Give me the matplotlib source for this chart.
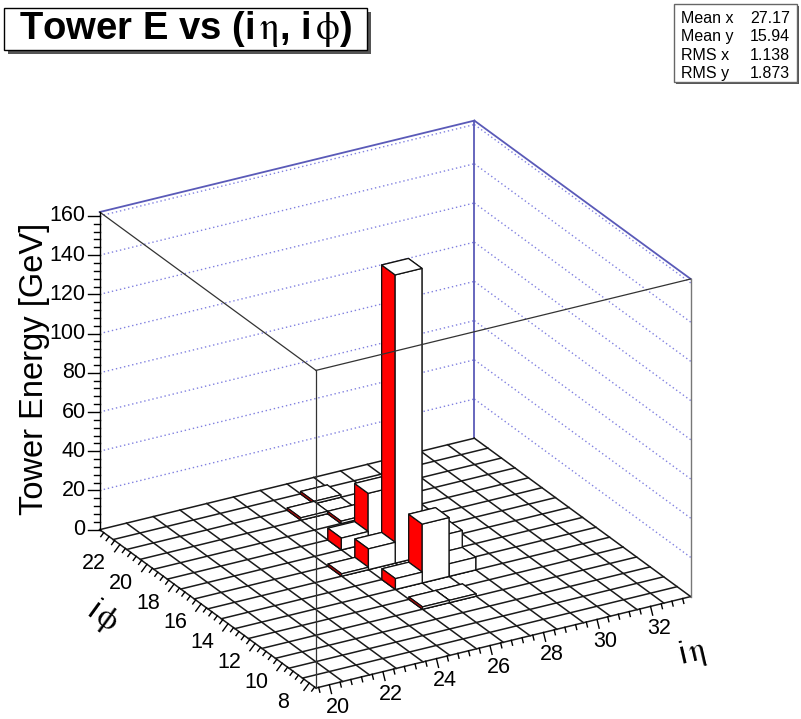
import numpy as np
import matplotlib
matplotlib.use('Agg')
import matplotlib.pyplot as plt
from matplotlib.patches import Rectangle
from mpl_toolkits.mplot3d import proj3d

plt.rcParams['font.family'] = ['Liberation Sans', 'DejaVu Sans']
plt.rcParams['mathtext.fontset'] = 'stix'

# towers with energy (all other towers are empty)
tower_ieta = [27, 27, 27, 26, 26, 26, 28, 28, 27, 27, 26, 27, 25, 26]
tower_iphi = [16, 14, 18, 16, 18, 14, 15, 14, 20, 22, 12, 12, 16, 21]
tower_e = [147.0, 30.0, 25.5, 10.6, 6.0, 5.5, 15.0, 6.4, 1.2, 1.2, 1.2, 1.2, 1.2, 1.2]

ieta_range = (19.5, 33.5)
iphi_range = (7.5, 23.5)
e_top = 162.0

eta_ticks = [20, 22, 24, 26, 28, 30, 32]
phi_ticks = [8, 10, 12, 14, 16, 18, 20, 22]
e_ticks = [0, 20, 40, 60, 80, 100, 120, 140, 160]

stat_names = ['Mean x', 'Mean y', 'RMS x', 'RMS y']
stat_values = ['27.17', '15.94', '1.138', '1.873']

W, H = 801, 719
fig = plt.figure(figsize=(W / 100, H / 100), dpi=100)
ax = fig.add_axes([0.1, 0.1, 0.8, 0.8 * W / H], projection='3d',
                  proj_type='ortho', computed_zorder=False)
ax.set_xlim(*ieta_range)
ax.set_ylim(*iphi_range)
ax.set_zlim(0, e_top)
ax.set_box_aspect((1, 1, 0.81))
ax.view_init(elev=25, azim=-120)
ax.set_axis_off()

# place the axes so the lego box lands where ROOT drew it
fig.canvas.draw()


def to_px(p):
    xs, ys, _ = proj3d.proj_transform(np.array([p[0]]), np.array([p[1]]),
                                      np.array([p[2]]), ax.M)
    return ax.transData.transform([[xs[0], ys[0]]])[0]


bb = ax.bbox
front = to_px((ieta_range[0], iphi_range[0], 0))
left = to_px((ieta_range[0], iphi_range[1], 0))
right = to_px((ieta_range[1], iphi_range[0], 0))
box_w = 591.0
s = box_w / (right[0] - left[0])
u = (front[0] - bb.x0) / bb.width
v = (front[1] - bb.y0) / bb.height
size = bb.width * s
x0 = 316 - u * size
y0 = (H - 688) - v * size
ax.set_position([x0 / W, y0 / H, size / W, size / H])

# screen offsets (pixels) -> data offsets
L = box_w / (np.cos(np.radians(30)) + np.sin(np.radians(30)))
el, az = np.radians(25), np.radians(-120)
right_w = np.array([-np.sin(az), np.cos(az), 0.0])
up_w = np.array([-np.cos(az) * np.sin(el), -np.sin(az) * np.sin(el), np.cos(el)])
span = np.array([ieta_range[1] - ieta_range[0], iphi_range[1] - iphi_range[0], e_top / 0.81])


def shift(px_r, px_u):
    return (px_r * right_w + px_u * up_w) / L * span


def perp(axis_vec, sign):
    d = np.array([right_w @ axis_vec, up_w @ axis_vec])
    d = d / np.hypot(*d)
    return sign * np.array([-d[1], d[0]])


def label(p, off, text, **kw):
    px = to_px(p) + np.asarray(off)
    fig.text(px[0] / W, px[1] / H, text, fontsize=15.5, zorder=5, **kw)


# back walls
blue = '#5a5ab8'
dot_blue = '#8080e0'
for z in e_ticks[1:]:
    ax.plot(ieta_range, [iphi_range[1]] * 2, [z, z], color=dot_blue, lw=1.0,
            ls=(0, (1, 2)), zorder=0)
    ax.plot([ieta_range[1]] * 2, iphi_range, [z, z], color=dot_blue, lw=1.0,
            ls=(0, (1, 2)), zorder=0)
ax.plot(ieta_range, [iphi_range[1]] * 2, [e_top] * 2, color=blue, lw=1.3, zorder=0)
ax.plot([ieta_range[1]] * 2, iphi_range, [e_top] * 2, color=blue, lw=1.3, zorder=0)
ax.plot([ieta_range[1]] * 2, [iphi_range[1]] * 2, [0, e_top], color=blue, lw=1.3, zorder=0)

# floor cells (empty towers)
for xe in np.arange(ieta_range[0], ieta_range[1] + 0.5, 1.0):
    ax.plot([xe, xe], iphi_range, [0, 0], color='#1a1a1a', lw=1.1, zorder=1)
for ye in np.arange(iphi_range[0], iphi_range[1] + 0.5, 1.0):
    ax.plot(ieta_range, [ye, ye], [0, 0], color='#1a1a1a', lw=1.1, zorder=1)

# towers, back to front
faces = ['white', 'white', 'white', 'white', 'red', 'white']  # -z +z -y +y -x +x
order = np.argsort(-(np.array(tower_ieta) + np.array(tower_iphi)), kind='stable')
for rank, k in enumerate(order):
    ax.bar3d(tower_ieta[k] - 0.5, tower_iphi[k] - 0.5, 0, 1, 1, tower_e[k],
             color=faces, edgecolor='#111111', linewidth=0.9, shade=False,
             zorder=2 + rank)

# front box edges
edge_kw = dict(color='#333333', lw=0.9, zorder=200)
ax.plot([ieta_range[0]] * 2, [iphi_range[0]] * 2, [0, e_top], **edge_kw)
ax.plot([ieta_range[0]] * 2, iphi_range, [e_top] * 2, **edge_kw)
ax.plot(ieta_range, [iphi_range[0]] * 2, [e_top] * 2, **edge_kw)
ax.plot([ieta_range[1]] * 2, [iphi_range[0]] * 2, [0, e_top], color='#777777', lw=1.0, zorder=200)
ax.plot([ieta_range[0]] * 2, [iphi_range[1]] * 2, [0, e_top], color='black', lw=1.0, zorder=200)

# z axis
zbase = np.array([ieta_range[0], iphi_range[1], 0.0])
for z in np.arange(0, e_top + 0.1, 4):
    p = zbase + np.array([0, 0, z])
    q = p + shift(-12 if z % 20 == 0 else -6, 0)
    ax.plot([p[0], q[0]], [p[1], q[1]], [p[2], q[2]], color='black', lw=1.0, zorder=200)
for z in e_ticks:
    label(zbase + np.array([0, 0, z]), (-14, 0), str(z), ha='right', va='center')

# ieta axis
pe = perp(np.array([1.0, 0, 0]), -1)
for xv in np.round(np.arange(19.6, 33.5, 0.4), 1):
    major = abs(xv - round(xv)) < 1e-6 and round(xv) in eta_ticks
    p = np.array([xv, iphi_range[0], 0.0])
    q = p + shift(*(pe * (9 if major else 5)))
    ax.plot([p[0], q[0]], [p[1], q[1]], [p[2], q[2]], color='black', lw=1.0, zorder=200)
for xv in eta_ticks:
    label((xv, iphi_range[0], 0.0), pe * 23 + np.array([3, 0]), str(xv),
          ha='center', va='center')

# iphi axis
pp = perp(np.array([0, 1.0, 0]), 1)
for yv in np.round(np.arange(7.6, 23.5, 0.4), 1):
    major = abs(yv - round(yv)) < 1e-6 and round(yv) in phi_ticks
    p = np.array([ieta_range[0], yv, 0.0])
    q = p + shift(*(pp * (9 if major else 5)))
    ax.plot([p[0], q[0]], [p[1], q[1]], [p[2], q[2]], color='black', lw=1.0, zorder=200)
for yv in phi_ticks:
    label((ieta_range[0], yv, 0.0), (-26, -19), str(yv), ha='center', va='center')

# axis titles
fig.text(35 / W, 1 - 369 / H, 'Tower Energy [GeV]', rotation=90, ha='center',
         va='center', fontsize=23.5)
fig.text(103 / W, 1 - 617 / H, r'i$\,\mathrm{\phi}$', rotation=-36, ha='center',
         va='center', fontsize=23)
fig.text(693 / W, 1 - 653 / H, r'i$\,\mathrm{\eta}$', rotation=13, ha='center',
         va='center', fontsize=23)


def pave(x_left, y_top, x_right, y_bottom, shadow, edge):
    w, h = x_right - x_left, y_bottom - y_top
    fig.add_artist(Rectangle(((x_left + shadow) / W, 1 - (y_bottom + shadow) / H), w / W, h / H,
                             transform=fig.transFigure, facecolor='#555555',
                             edgecolor='none', zorder=1))
    fig.add_artist(Rectangle((x_left / W, 1 - y_bottom / H), w / W, h / H,
                             transform=fig.transFigure, facecolor='white',
                             edgecolor=edge, lw=1.0, zorder=2))


# title
pave(4, 8, 367, 50, 4, 'black')
fig.text(186 / W, 1 - 29 / H, r'Tower E vs (i$\,\mathrm{\eta}$, i$\,\mathrm{\phi}$)',
         ha='center', va='center', fontsize=27.5, fontweight='bold', zorder=3)

# stats box
pave(674, 4, 797, 82, 2, '#666666')
for i, (name, val) in enumerate(zip(stat_names, stat_values)):
    yb = 23 + 18.3 * i
    fig.text(681 / W, 1 - yb / H, name, ha='left', va='baseline', fontsize=11.5, zorder=3)
    fig.text(790 / W, 1 - yb / H, val, ha='right', va='baseline', fontsize=11.5, zorder=3)

fig.savefig('out.png', dpi=100)
